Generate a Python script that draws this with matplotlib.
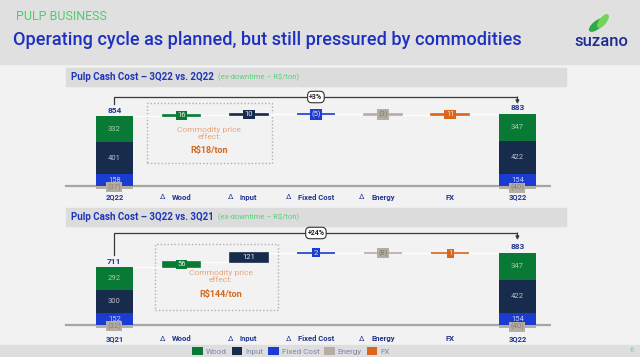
import matplotlib.pyplot as plt
from matplotlib.patches import Rectangle, Ellipse, Patch

plt.rcParams['font.family'] = ['Roboto', 'DejaVu Sans']

# values, R$/ton
components = ['Wood', 'Input', 'Fixed Cost', 'Energy', 'FX']
cats_qoq = ['2Q22', 'Wood', 'Input', 'Fixed Cost', 'Energy', 'FX', '3Q22']
cats_yoy = ['3Q21', 'Wood', 'Input', 'Fixed Cost', 'Energy', 'FX', '3Q22']
delta_flags = [False, True, True, True, True, False, False]

# wood, input, fixed cost, energy
cost_2q22 = [332, 401, 158, -37]
cost_3q21 = [292, 300, 152, -32]
cost_3q22 = [347, 422, 154, -40]
total_2q22 = 854
total_3q21 = 711
total_3q22 = 883

# wood, input, fixed cost, energy, fx
delta_qoq = [16, 10, -5, -3, 11]
delta_yoy = [56, 121, 2, -8, 1]

pct_qoq = '+3%'
pct_yoy = '+24%'
effect_qoq = 'R$18/ton'
effect_yoy = 'R$144/ton'

GREEN = '#087a36'
NAVY = '#172b4d'
BLUE = '#1b3bd1'
GRAY = '#b5aea3'
ORANGE = '#d9661c'
colors = [GREEN, NAVY, BLUE, GRAY, ORANGE]
LABEL = '#22358f'

W, H = 640, 357
S = 0.0785   # pixels per R$/ton
BW = 0.56


def fx(p):
    return p / W


def fy(p):
    return 1 - p / H


def fmt(v):
    return f'({abs(v)})' if v < 0 else str(v)


fig = plt.figure(figsize=(6.4, 3.57), dpi=100, facecolor='#f2f2f2')

# background bands (behind every axes)
fig.patches.append(Rectangle((0, fy(64)), 1, 64 / H, transform=fig.transFigure,
                             color='#e0e0e0', zorder=-2))
fig.patches.append(Rectangle((0, 0), 1, 12 / H, transform=fig.transFigure,
                             color='#dedede', zorder=-2))

fig.text(fx(16), fy(16), 'PULP BUSINESS', fontsize=9, color='#4ccd70', va='center')
fig.text(fx(13), fy(40), 'Operating cycle as planned, but still pressured by commodities',
         fontsize=13.1, color='#1e30c0', va='center', fontweight='medium')

# logo
lax = fig.add_axes([fx(584), fy(34), 30 / W, 22 / H])
lax.set_xlim(0, 30)
lax.set_ylim(0, 22)
lax.axis('off')
lax.add_patch(Ellipse((13, 9), 18, 7, angle=38, color='#2fa84a'))
lax.add_patch(Ellipse((19, 13), 15, 6, angle=52, color='#74d35b'))
fig.text(fx(601), fy(41), 'suzano', ha='center', va='center', fontsize=12,
         color='#1f2c8f', fontweight='medium')
fig.text(fx(630), fy(350), '6', fontsize=5.5, color='#7dd08c', va='center')


def panel_axes(top, bottom, base):
    ax = fig.add_axes([fx(64), fy(bottom), 487 / W, (bottom - top) / H])
    ax.set_xlim(-0.75, 6.5)
    ax.set_ylim(-(bottom - base) / S, (base - top) / S)
    ax.axis('off')
    return ax


def section_header(ax, ypx, title):
    fig.patches.append(Rectangle((fx(66), fy(ypx + 9)), 500 / W, 18 / H,
                                 transform=fig.transFigure, color='#dcdcdc', zorder=-1))
    t = fig.text(fx(71), fy(ypx), title, fontsize=7, fontweight='bold',
                 color='#1f35b9', va='center')
    ax.annotate('(ex-downtime – R$/ton)', xy=(1, 0.5), xycoords=t, xytext=(3, 0),
                textcoords='offset points', va='center', fontsize=5.5,
                color='#5ccf7a', annotation_clip=False)


def draw_panel(ax, cats, start, end, start_total, end_total, deltas, pct, effect, cfg):
    ax.plot([-0.72, 6.48], [0, 0], color='#a6a6a6', lw=1.6, zorder=1)

    for x, stack, total in [(0, start, start_total), (6, end, end_total)]:
        wood, inp, fixed, energy = stack
        segs = [(0, fixed, BLUE, '#c9d0f7'),
                (fixed, inp, NAVY, '#b7bdca'),
                (fixed + inp, wood, GREEN, '#a7cdb1')]
        for b, h, c, tc in segs:
            ax.bar(x, h, bottom=b, width=BW, color=c, zorder=3)
            ax.text(x, b + h / 2, str(h), ha='center', va='center', fontsize=5.5,
                    color=tc, zorder=4)
        ax.bar(x, energy, width=BW, color=GRAY, zorder=3)
        ax.text(x, energy / 2, fmt(energy), ha='center', va='center', fontsize=5.5,
                color='#857d70', zorder=4,
                bbox=dict(boxstyle='square,pad=0.15', fc=GRAY, ec='none'))
        top = wood + inp + fixed
        ax.annotate(str(total), (x, top), xytext=(0, 1.5), textcoords='offset points',
                    ha='center', va='bottom', fontsize=6, fontweight='bold', color=LABEL)

    # floating deltas
    level = sum(v for v in start if v > 0)
    edge = BW / 2
    for i, d in enumerate(deltas):
        x = i + 1
        c = colors[i]
        ax.plot([edge, x - BW / 2], [level, level], color='white', lw=1, zorder=2)
        ax.bar(x, d, bottom=level, width=BW, color=c, edgecolor=c, lw=1.2, zorder=3)
        tc = '#7c7568' if c == GRAY else '#e8e8e8'
        ax.text(x, level + d / 2, fmt(d), ha='center', va='center', fontsize=5.5,
                color=tc, zorder=4,
                bbox=dict(boxstyle='square,pad=0.2', fc=c, ec='none'))
        level += d
        edge = x + BW / 2
    ax.plot([edge, 6 - BW / 2], [level, level], color='white', lw=1, zorder=2)

    # bracket with growth
    by = cfg['bracket_y']
    ax.plot([0, 0, 6], [cfg['left_end'], by, by], color='#3a3a3a', lw=0.9, zorder=2)
    ax.annotate('', xy=(6, cfg['arrow_end']), xytext=(6, by),
                arrowprops=dict(arrowstyle='-|>', color='#3a3a3a', lw=0.9,
                                mutation_scale=5, shrinkA=0, shrinkB=0))
    ax.text(3, by, pct, ha='center', va='center', fontsize=5, fontweight='bold',
            color='#222222', zorder=5,
            bbox=dict(boxstyle='round,pad=0.25,rounding_size=0.6', fc='white',
                      ec='#333333', lw=0.8))

    # commodity price effect box
    x0, x1, y0, y1 = cfg['box']
    ax.add_patch(Rectangle((x0, y0), x1 - x0, y1 - y0, fill=False, ls=(0, (1, 1.5)),
                           ec='#b0b0b0', lw=1, zorder=1))
    ax.text(cfg['eff_x'], cfg['eff_y1'], 'Commodity price\neffect:', ha='center',
            va='center', fontsize=6, color='#e9a57a', linespacing=1.2)
    ax.text(cfg['eff_x'], cfg['eff_y2'], effect, ha='center', va='center',
            fontsize=6.5, fontweight='bold', color='#d4691e')

    # category labels
    for i, name in enumerate(cats):
        t = ax.annotate(name, (i, 0), xytext=(0, -cfg['label_off']),
                        textcoords='offset points', ha='center', va='center',
                        fontsize=5.5, color=LABEL, fontweight='semibold')
        if delta_flags[i]:
            ax.annotate('Δ', xy=(0, 0.5), xycoords=t, xytext=(-5, 0),
                        textcoords='offset points', ha='right', va='center',
                        fontsize=5.5, color=LABEL)


ax1 = panel_axes(88, 200, 186)
section_header(ax1, 77, 'Pulp Cash Cost – 3Q22 vs. 2Q22')
draw_panel(ax1, cats_qoq, cost_2q22, cost_3q22, total_2q22, total_3q22, delta_qoq,
           pct_qoq, effect_qoq,
           dict(bracket_y=(186 - 97) / S, left_end=(186 - 104) / S,
                arrow_end=(186 - 104) / S,
                box=(0.49, 2.34, (186 - 163) / S, (186 - 103) / S),
                eff_x=1.41, eff_y1=(186 - 133.5) / S, eff_y2=(186 - 150) / S,
                label_off=8))

ax2 = panel_axes(228, 344, 325)
section_header(ax2, 217, 'Pulp Cash Cost – 3Q22 vs. 3Q21')
draw_panel(ax2, cats_yoy, cost_3q21, cost_3q22, total_3q21, total_3q22, delta_yoy,
           pct_yoy, effect_yoy,
           dict(bracket_y=(325 - 233) / S, left_end=(325 - 255) / S,
                arrow_end=(325 - 240) / S,
                box=(0.61, 2.44, (325 - 310) / S, (325 - 244) / S),
                eff_x=1.58, eff_y1=(325 - 276.5) / S, eff_y2=(325 - 294) / S,
                label_off=10))

handles = [Patch(fc=c, ec='none') for c in colors]
fig.legend(handles, components, loc='center', bbox_to_anchor=(fx(291), fy(351)),
           ncol=5, frameon=False, fontsize=5.8, handlelength=1.3, handleheight=1.1,
           handletextpad=0.4, columnspacing=0.6, labelcolor='#7d86ad')

fig.savefig('out.png', dpi=100, facecolor=fig.get_facecolor())
